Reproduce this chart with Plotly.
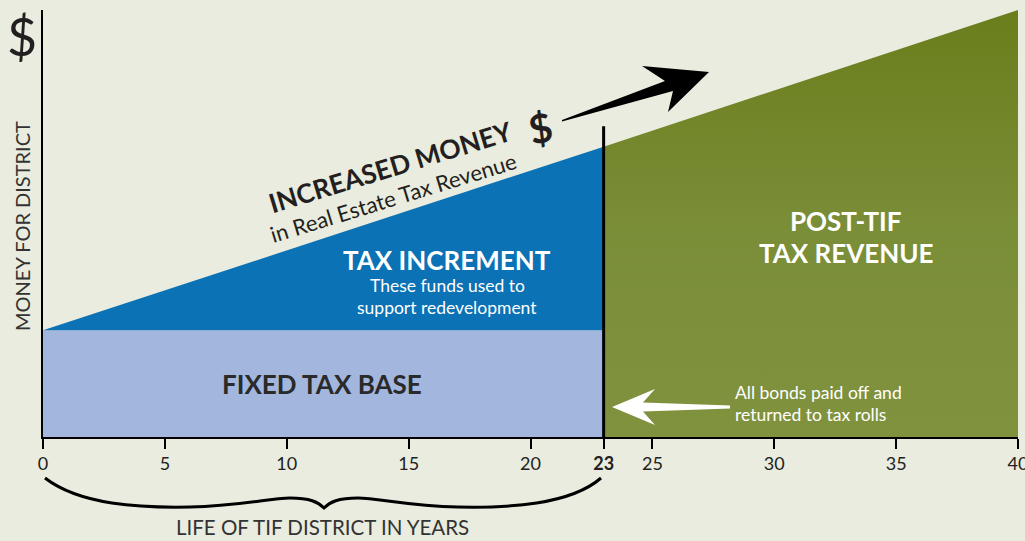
import plotly.graph_objects as go

# ---- data ----
tick_vals = [0, 5, 10, 15, 20, 23, 25, 30, 35, 40]
tick_text = ["0", "5", "10", "15", "20", "<b>23</b>", "25", "30", "35", "40"]
years_start = 0
tif_end = 23
years_end = 40
fixed_base = 1.0
revenue_start = 1.0
revenue_at_tif_end = 2.72
revenue_at_end = 4.0
divider_top = 2.91

BG = "#e9ecde"
LIGHT_BLUE = "#a3b7de"
BLUE = "#0a72b5"
FONT = "Lato"

# plot-area pixel geometry (for decorations in paper coords)
L, R, T, B = 43, 1018, 10, 437
def px(x):
    return (x - L) / (R - L)
def py(y):
    return (B - y) / (B - T)
def path(points, close=True):
    s = "M " + " L ".join(f"{px(a):.5f},{py(b):.5f}" for a, b in points)
    return s + (" Z" if close else "")

fig = go.Figure()

# fixed tax base
fig.add_trace(go.Scatter(
    x=[years_start, tif_end, tif_end, years_start, years_start],
    y=[0, 0, fixed_base, fixed_base, 0],
    fill="toself", fillcolor=LIGHT_BLUE, mode="lines",
    line=dict(width=0, color=LIGHT_BLUE), hoverinfo="skip", showlegend=False))

# tax increment
fig.add_trace(go.Scatter(
    x=[years_start, tif_end, tif_end, years_start],
    y=[revenue_start, fixed_base, revenue_at_tif_end, revenue_start],
    fill="toself", fillcolor=BLUE, mode="lines",
    line=dict(width=0, color=BLUE), hoverinfo="skip", showlegend=False))

# post-TIF revenue
fig.add_trace(go.Scatter(
    x=[tif_end, years_end, years_end, tif_end, tif_end],
    y=[0, 0, revenue_at_end, revenue_at_tif_end, 0],
    fill="toself", mode="lines",
    fillgradient=dict(type="vertical",
                      colorscale=[[0, "#80923e"], [0.5, "#7a8d37"], [1, "#6a7e1c"]]),
    line=dict(width=0, color="#7a8d37"), hoverinfo="skip", showlegend=False))

# divider line at end of TIF
fig.add_trace(go.Scatter(
    x=[tif_end, tif_end], y=[0, divider_top], mode="lines",
    line=dict(width=3, color="black"), hoverinfo="skip", showlegend=False))

shapes = []
# black arrow
shapes.append(dict(type="path", xref="paper", yref="paper", layer="above",
                   path=path([(562, 120), (665, 81), (642, 66), (709, 72),
                              (668, 112), (673, 91), (562, 121.5)]),
                   fillcolor="black", line=dict(width=0)))
# white arrow
shapes.append(dict(type="path", xref="paper", yref="paper", layer="above",
                   path=path([(612, 407), (655, 389), (643, 402.5), (730, 405.5),
                              (730, 408.5), (643, 411.5), (655, 425)]),
                   fillcolor="white", line=dict(width=0)))
# brace
bp = [(45, 478), (80, 505), (140, 508), (190, 507), (240, 506), (270, 498), (290, 498),
      (310, 498), (318, 502), (324, 508), (330, 502), (338, 498), (358, 498),
      (378, 498), (408, 506), (458, 507), (508, 508), (570, 505), (601, 478)]
def bz(pts):
    s = f"M {px(pts[0][0]):.5f},{py(pts[0][1]):.5f}"
    for i in range(1, len(pts), 3):
        seg = pts[i:i + 3]
        s += " C " + " ".join(f"{px(a):.5f},{py(b):.5f}" for a, b in seg)
    return s
shapes.append(dict(type="path", xref="paper", yref="paper", layer="above",
                   path=bz(bp), line=dict(width=3, color="black")))

ann = []
def add(text, x, y, size, color="#231f20", angle=0, xanchor="center", bold=False):
    ann.append(dict(text=f"<b>{text}</b>" if bold else text, x=px(x), y=py(y),
                    xref="paper", yref="paper", showarrow=False, textangle=angle,
                    xanchor=xanchor, yanchor="middle",
                    font=dict(family=FONT, size=size, color=color)))

add("$", 22, 36, 52)
add("MONEY FOR DISTRICT", 22, 226, 20, color="#333333", angle=-90)
add("INCREASED MONEY", 390, 167, 26.5, angle=-17, bold=True)
add("in Real Estate Tax Revenue", 393, 197, 22, angle=-17)
add("$", 540, 128, 40, angle=-12, bold=True)
add("TAX INCREMENT", 447, 260, 26, color="white", bold=True)
add("These funds used to", 447, 285, 17.5, color="white")
add("support redevelopment", 447, 307, 17.5, color="white")
add("POST-TIF", 846, 221, 26, color="white", bold=True)
add("TAX REVENUE", 846, 253, 26, color="white", bold=True)
add("FIXED TAX BASE", 322, 384, 26, color="#2a2a2a", bold=True)
add("All bonds paid off and", 733, 392, 17.5, color="white", xanchor="left")
add("returned to tax rolls", 733, 414, 17.5, color="white", xanchor="left")
add("LIFE OF TIF DISTRICT IN YEARS", 322, 527, 20.5, color="#333333")

fig.update_layout(
    width=1025, height=541,
    margin=dict(l=L, r=1025 - R, t=T, b=541 - B, pad=0, autoexpand=False),
    paper_bgcolor=BG, plot_bgcolor=BG,
    shapes=shapes, annotations=ann,
    font=dict(family=FONT, color="#222222"),
    xaxis=dict(range=[years_start, years_end], tickvals=tick_vals, ticktext=tick_text,
               showline=True, linecolor="black", linewidth=1.5, ticks="outside",
               ticklen=10, tickwidth=1.5, tickcolor="black", showgrid=False,
               zeroline=False, ticklabeloverflow="allow", automargin=False,
               tickfont=dict(family=FONT, size=18, color="#222222")),
    yaxis=dict(range=[0, revenue_at_end], showline=True, linecolor="black", linewidth=1.5,
               showticklabels=False, ticks="", showgrid=False, zeroline=False,
               automargin=False),
)

fig.write_html(
    "out.html",
    config={"displayModeBar": False},
    post_script="document.body.style.margin='0';document.body.style.padding='0';"
                "document.body.style.overflow='hidden';"
                "document.body.style.background='" + BG + "';",
)
